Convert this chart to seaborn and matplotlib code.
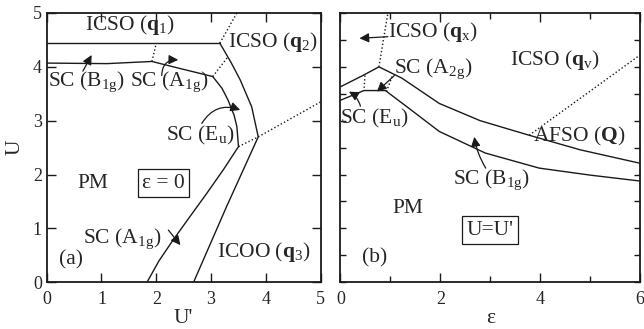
import matplotlib
matplotlib.use("Agg")
import matplotlib.pyplot as plt
import seaborn as sns

# ---- panel (a): eps = 0, U vs U' ----
a_top_x = [0, 3.16]
a_top_y = [4.44, 4.44]
a_inner_x = [0, 1.1, 1.92, 2.43, 3.03, 3.20, 3.31, 3.42, 3.47, 3.50, 3.23, 2.92, 2.60, 2.31, 2.05, 1.83]
a_inner_y = [4.07, 4.06, 4.10, 3.97, 3.82, 3.60, 3.38, 3.10, 2.89, 2.52, 2.10, 1.65, 1.20, 0.79, 0.40, 0.0]
a_outer_x = [3.16, 3.37, 3.53, 3.74, 3.86, 3.28, 2.68]
a_outer_y = [4.44, 4.07, 3.76, 3.26, 2.70, 1.40, 0.0]
a_dotted = [
    ([1.92, 2.00], [4.10, 4.44]),
    ([3.03, 3.31], [3.82, 4.19]),
    ([3.16, 3.47], [4.44, 5.00]),
    ([3.50, 3.86], [2.52, 2.70]),
    ([3.86, 5.00], [2.70, 3.35]),
]

# ---- panel (b): U = U', U vs eps ----
b_upper_x = [0, 0.47, 0.77, 1.23, 1.98, 2.8, 3.78, 4.8, 6.0]
b_upper_y = [3.63, 3.85, 4.0, 3.79, 3.32, 3.00, 2.73, 2.46, 2.21]
b_lower_x = [0, 0.47, 0.9, 1.4, 1.98, 2.9, 3.98, 5.0, 6.0]
b_lower_y = [3.38, 3.56, 3.56, 3.21, 2.80, 2.40, 2.12, 1.99, 1.88]
b_dotted = [
    ([0.49, 0.47], [3.84, 3.56]),
    ([0.77, 0.95], [4.00, 5.00]),
    ([0.92, 1.05], [3.54, 3.86]),
    ([3.78, 6.00], [2.73, 4.22]),
]

sns.set_theme(style="ticks")
plt.rcParams['font.family'] = ['Liberation Serif', 'DejaVu Serif']
plt.rcParams['mathtext.fontset'] = 'custom'
plt.rcParams['mathtext.rm'] = 'Liberation Serif'
plt.rcParams['mathtext.it'] = 'Liberation Serif:italic'
plt.rcParams['mathtext.bf'] = 'Liberation Serif:bold'

FS = 15.5   # labels inside the panels
TS = 13     # tick labels
fig = plt.figure(figsize=(6.44, 3.29), dpi=100)
axa = fig.add_axes([0.0725, 0.142, 0.4255, 0.8185])
axb = fig.add_axes([0.5287, 0.142, 0.4651, 0.8185])

lw = 1.0
arrow = dict(arrowstyle='-|>', color='k', lw=0.9, mutation_scale=14, shrinkA=0, shrinkB=0)


def draw(ax, x, y, ls='-'):
    sns.lineplot(x=x, y=y, ax=ax, sort=False, estimator=None, color='k', lw=lw,
                 linestyle=ls, legend=False)


# panel a
draw(axa, a_top_x, a_top_y)
draw(axa, a_inner_x, a_inner_y)
draw(axa, a_outer_x, a_outer_y)
for xs, ys in a_dotted:
    draw(axa, xs, ys, ls=':')

axa.text(1.52, 4.78, r'ICSO ($\mathbf{q}_1$)', fontsize=FS, ha='center', va='center')
axa.text(3.30, 4.47, r'ICSO ($\mathbf{q}_2$)', fontsize=FS, ha='left', va='center')
axa.text(0.02, 3.72, r'SC (B$_{\mathrm{1g}}$)', fontsize=FS, ha='left', va='center')
axa.text(1.52, 3.72, r'SC (A$_{\mathrm{1g}}$)', fontsize=FS, ha='left', va='center')
axa.text(2.18, 2.73, r'SC (E$_{\mathrm{u}}$)', fontsize=FS, ha='left', va='center')
axa.text(0.85, 1.84, 'PM', fontsize=FS, ha='center', va='center')
axa.text(2.13, 1.84, 'ε = 0', fontsize=FS, ha='center', va='center',
         bbox=dict(boxstyle='square,pad=0.2', fc='white', ec='k', lw=0.9))
axa.text(0.66, 0.80, r'SC (A$_{\mathrm{1g}}$)', fontsize=FS, ha='left', va='center')
axa.text(0.45, 0.42, '(a)', fontsize=FS, ha='center', va='center')
axa.text(3.10, 0.56, r'ICOO ($\mathbf{q}_3$)', fontsize=FS, ha='left', va='center')

axa.annotate('', xy=(0.82, 4.22), xytext=(0.66, 3.92), arrowprops=arrow)
axa.annotate('', xy=(2.40, 4.13), xytext=(2.10, 3.84),
             arrowprops=dict(arrow, connectionstyle='arc3,rad=-0.5'))
axa.annotate('', xy=(3.53, 3.20), xytext=(2.83, 2.95),
             arrowprops=dict(arrow, connectionstyle='arc3,rad=-0.4'))
axa.annotate('', xy=(2.44, 0.69), xytext=(2.22, 0.97), arrowprops=arrow)

axa.set_xlim(0, 5)
axa.set_ylim(0, 5)
axa.set_xticks([0, 1, 2, 3, 4, 5])
axa.set_yticks([0, 1, 2, 3, 4, 5])
axa.set_xlabel("U'", fontsize=FS, labelpad=1)
axa.set_ylabel('U', fontsize=FS, labelpad=6)

# panel b
draw(axb, b_upper_x, b_upper_y)
draw(axb, b_lower_x, b_lower_y)
for xs, ys in b_dotted:
    draw(axb, xs, ys, ls=':')

axb.text(0.95, 4.65, r'ICSO ($\mathbf{q}_\mathrm{x}$)', fontsize=FS, ha='left', va='center')
axb.text(1.08, 3.97, r'SC (A$_{\mathrm{2g}}$)', fontsize=FS, ha='left', va='center')
axb.text(3.40, 4.13, r'ICSO ($\mathbf{q}_\mathrm{v}$)', fontsize=FS, ha='left', va='center')
axb.text(0.0, 3.04, r'SC (E$_{\mathrm{u}}$)', fontsize=FS, ha='left', va='center')
axb.text(3.86, 2.70, r'AFSO ($\mathbf{Q}$)', fontsize=FS, ha='left', va='center')
axb.text(2.25, 1.90, r'SC (B$_{\mathrm{1g}}$)', fontsize=FS, ha='left', va='center')
axb.text(1.35, 1.37, 'PM', fontsize=FS, ha='center', va='center')
axb.text(3.0, 0.97, "U=U'", fontsize=FS, ha='center', va='center',
         bbox=dict(boxstyle='square,pad=0.2', fc='white', ec='k', lw=0.9))
axb.text(0.68, 0.45, '(b)', fontsize=FS, ha='center', va='center')

axb.annotate('', xy=(0.38, 4.53), xytext=(0.95, 4.56), arrowprops=arrow)
axb.annotate('', xy=(0.73, 3.54), xytext=(1.08, 3.84), arrowprops=arrow)
axb.annotate('', xy=(0.17, 3.54), xytext=(0.40, 3.27),
             arrowprops=dict(arrow, connectionstyle='arc3,rad=0.2'))
axb.annotate('', xy=(2.68, 2.70), xytext=(2.91, 2.12),
             arrowprops=dict(arrow, connectionstyle='arc3,rad=-0.1'))

axb.set_xlim(0, 6)
axb.set_ylim(0, 5)
axb.set_xticks([0, 2, 4, 6])
axb.set_xticks([1, 3, 5], minor=True)
axb.set_yticks([0.5 * i for i in range(11)])
axb.set_yticklabels([])
axb.set_xlabel('ε', fontsize=FS, labelpad=1)

for ax in (axa, axb):
    ax.tick_params(which='major', direction='in', top=True, right=True, length=6.5,
                   width=1.0, labelsize=TS, color='k')
    ax.tick_params(which='minor', direction='in', top=True, right=True, length=4,
                   width=1.0, color='k')
    ax.tick_params(axis='x', pad=6)
    for s in ax.spines.values():
        s.set_linewidth(1.3)
        s.set_color('k')
axb.tick_params(axis='y', which='major', length=4.5)

fig.savefig('out.png', dpi=100)
